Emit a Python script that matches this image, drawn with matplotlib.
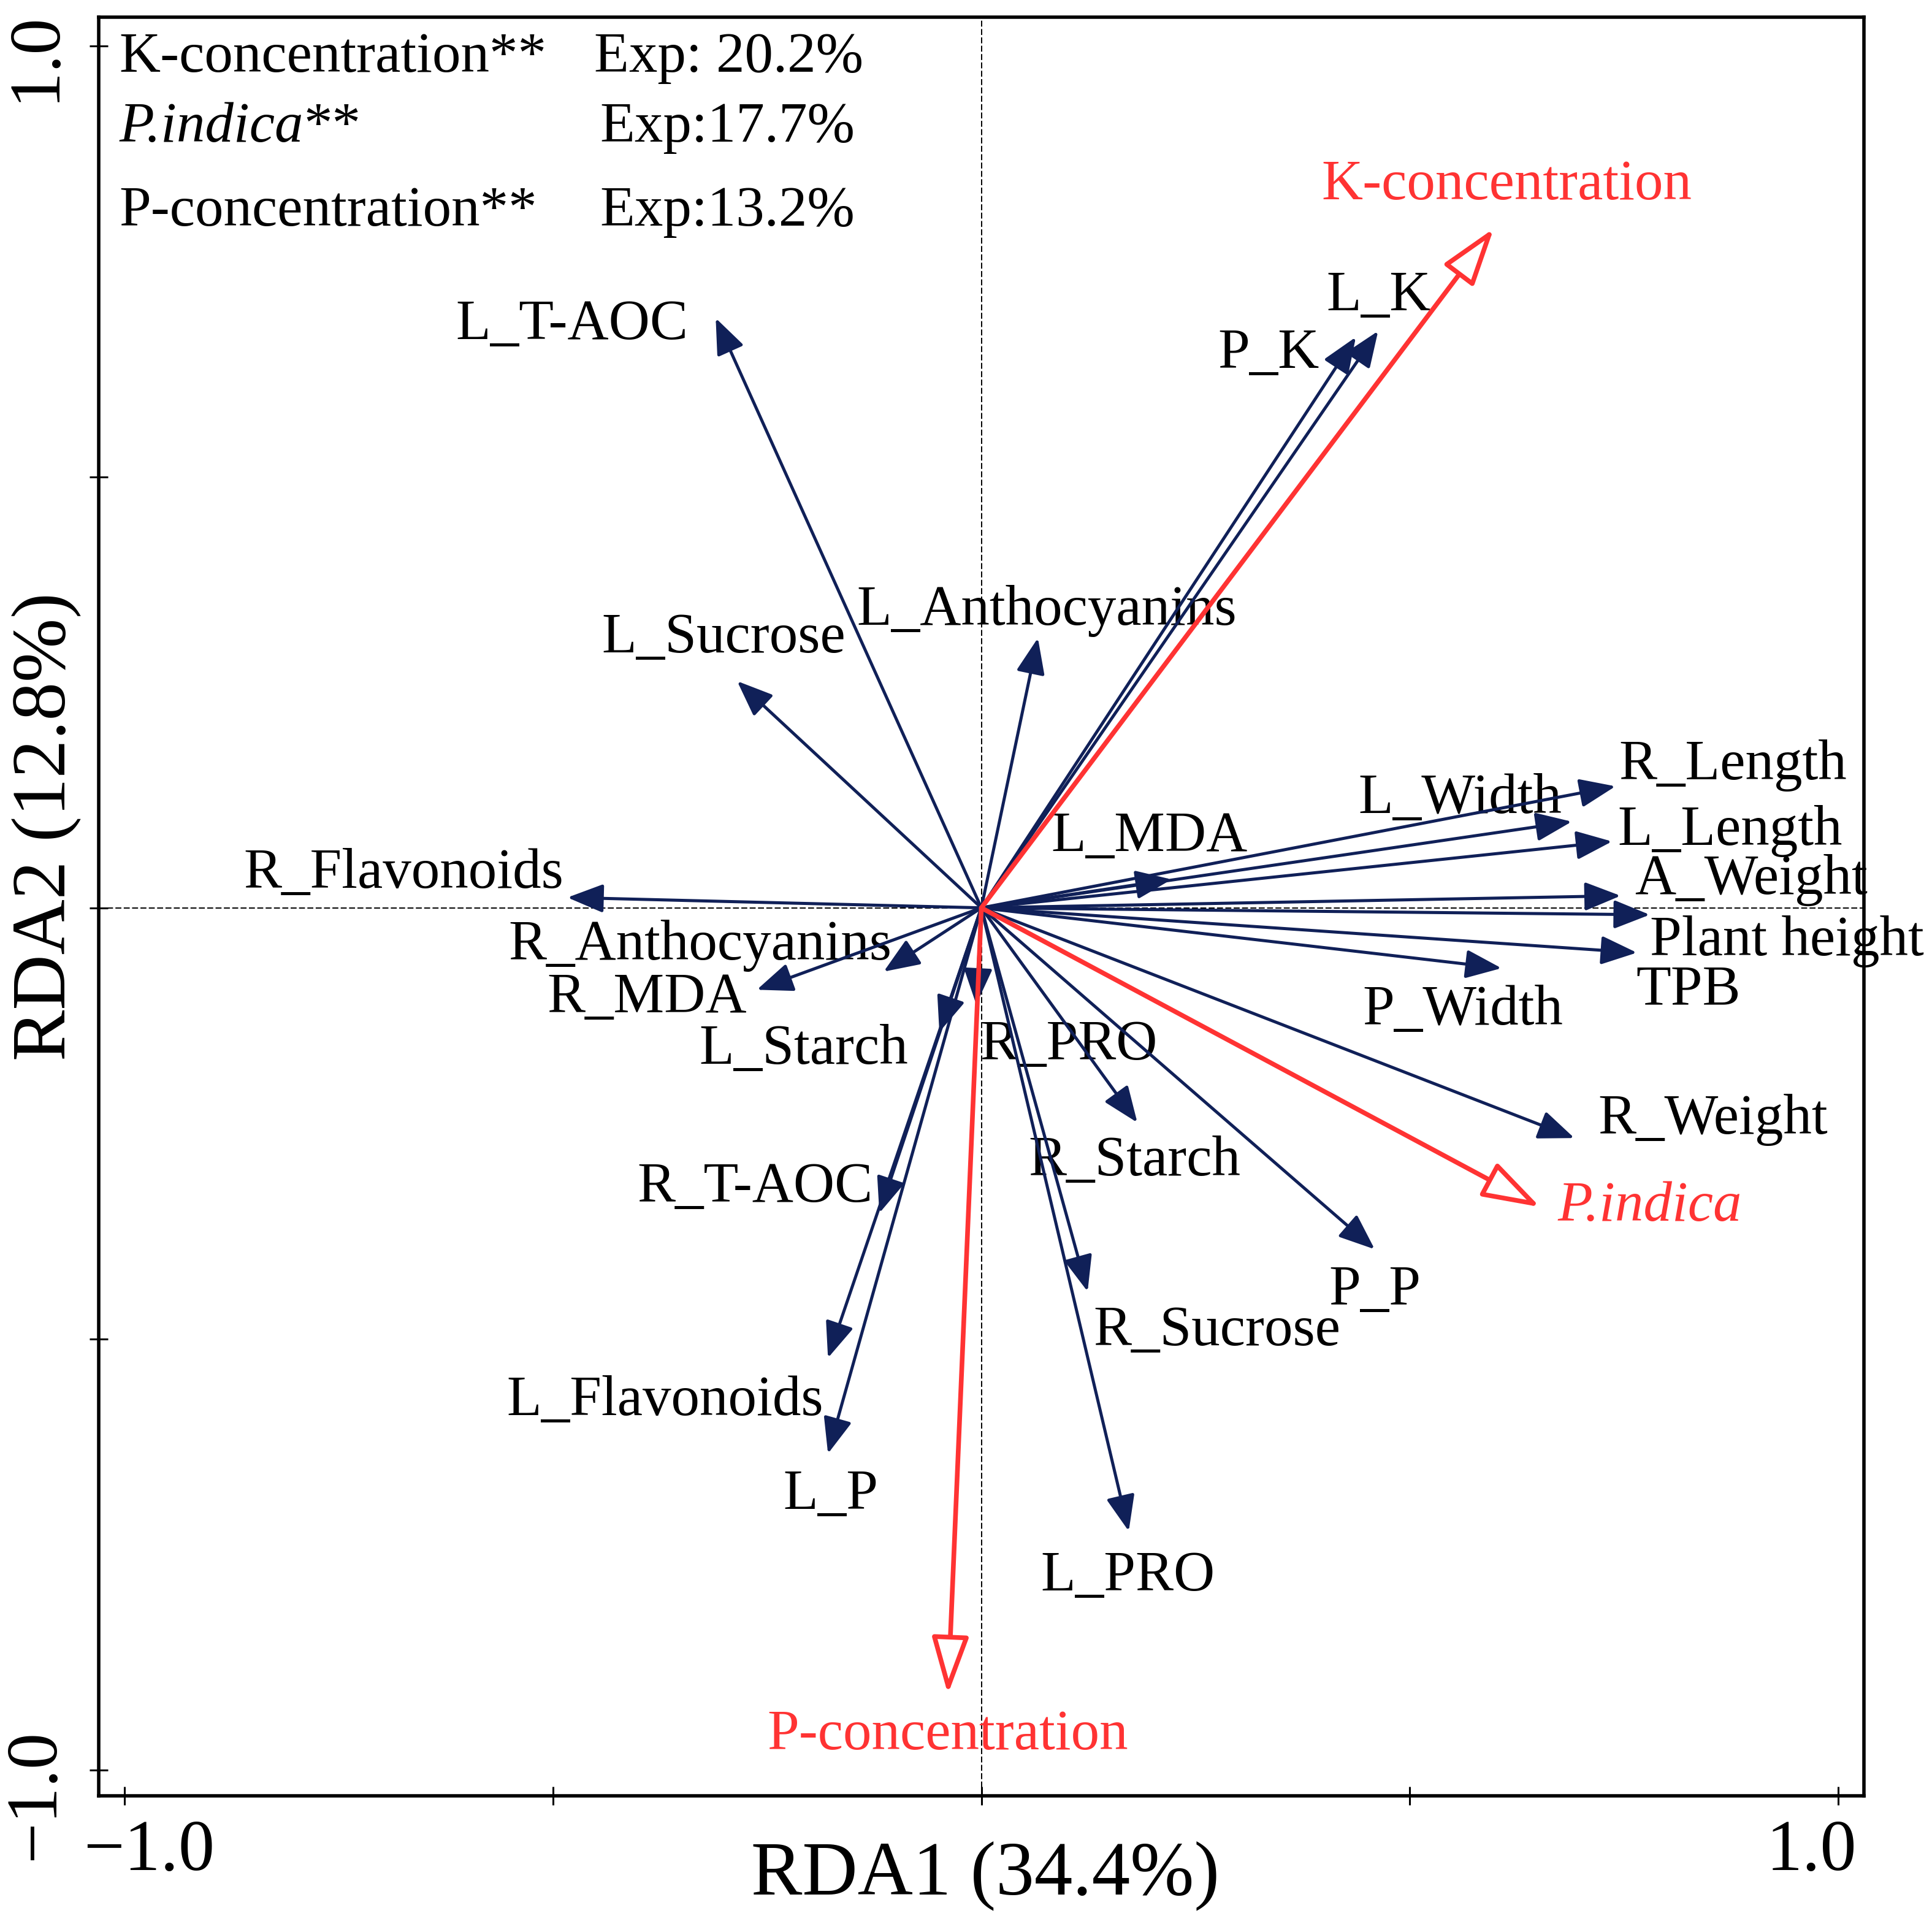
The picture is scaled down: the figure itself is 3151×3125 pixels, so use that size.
import matplotlib
matplotlib.use('Agg')
import matplotlib.pyplot as plt
import matplotlib.transforms as mtransforms

plt.rcParams['font.family'] = 'Liberation Serif'

# response variables (blue arrows): RDA1 / RDA2 scores
var_names = ['L_T-AOC', 'L_Sucrose', 'L_Anthocyanins', 'P_K', 'L_K',
             'R_Length', 'L_Width', 'L_Length', 'L_MDA', 'A_Weight',
             'Plant height', 'TPB', 'P_Width', 'R_Weight', 'P_P',
             'R_Starch', 'R_Sucrose', 'L_PRO', 'R_PRO', 'L_Starch',
             'R_Anthocyanins', 'R_MDA', 'R_Flavonoids', 'R_T-AOC',
             'L_Flavonoids', 'L_P']
rda1 = [-0.310, -0.285, 0.066, 0.437, 0.463,
        0.740, 0.689, 0.736, 0.222, 0.746,
        0.780, 0.765, 0.607, 0.692, 0.459,
        0.182, 0.124, 0.172, -0.006, -0.049,
        -0.114, -0.262, -0.483, -0.119,
        -0.179, -0.179]
rda2 = [0.684, 0.263, 0.313, 0.662, 0.669,
        0.141, 0.100, 0.077, 0.033, 0.014,
        -0.008, -0.052, -0.070, -0.267, -0.396,
        -0.249, -0.445, -0.723, -0.112, -0.144,
        -0.074, -0.095, 0.012, -0.354,
        -0.522, -0.633]

# explanatory variables (red arrows)
env_names = ['K-concentration', 'P.indica', 'P-concentration']
env_rda1 = [0.598, 0.652, -0.039]
env_rda2 = [0.788, -0.347, -0.912]
env_exp = ['Exp: 20.2%', 'Exp:17.7%', 'Exp:13.2%']

# where each label sits (layout only)
label_xy = {
    'L_T-AOC': (-0.478, 0.676), 'L_Sucrose': (-0.301, 0.312),
    'L_Anthocyanins': (0.076, 0.344), 'L_K': (0.464, 0.709),
    'P_K': (0.335, 0.642), 'R_Length': (0.877, 0.165),
    'L_Width': (0.559, 0.126), 'L_MDA': (0.196, 0.082),
    'L_Length': (0.874, 0.089), 'A_Weight': (0.898, 0.032),
    'Plant height': (0.940, -0.039), 'TPB': (0.825, -0.096),
    'P_Width': (0.562, -0.119), 'R_Weight': (0.854, -0.246),
    'P_P': (0.459, -0.444), 'R_Sucrose': (0.275, -0.491),
    'R_Starch': (0.179, -0.294), 'R_PRO': (0.102, -0.160),
    'L_PRO': (0.171, -0.776), 'L_P': (-0.176, -0.681),
    'L_Flavonoids': (-0.369, -0.572), 'R_T-AOC': (-0.264, -0.325),
    'L_Starch': (-0.207, -0.165), 'R_MDA': (-0.390, -0.105),
    'R_Anthocyanins': (-0.328, -0.044), 'R_Flavonoids': (-0.674, 0.039),
}
env_label_xy = {'K-concentration': (0.613, 0.838),
                'P.indica': (0.780, -0.347),
                'P-concentration': (-0.039, -0.960)}

navy = '#102058'
red = '#ff3333'
fs = 67

fig = plt.figure(figsize=(31.51, 31.25), dpi=100)
ax = fig.add_axes([0.0511, 0.0627, 0.9137, 0.9283])
ax.set_xlim(-1.03, 1.03)
ax.set_ylim(-1.03, 1.033)

ax.axhline(0, color='black', lw=1.4, ls=(0, (5, 2)), zorder=1)
ax.axvline(0, color='black', lw=1.4, ls=(0, (5, 2)), zorder=1)

for name, x, y in zip(var_names, rda1, rda2):
    ax.annotate('', xy=(x, y), xytext=(0, 0),
                arrowprops=dict(arrowstyle='-|>,head_length=0.9,head_width=0.36',
                                mutation_scale=40, color=navy, lw=3.6,
                                shrinkA=0, shrinkB=0), zorder=3)
    lx, ly = label_xy[name]
    ax.text(lx, ly, name, fontsize=fs, ha='center', va='center', zorder=2,
            clip_on=False)

for name, x, y in zip(env_names, env_rda1, env_rda2):
    ax.annotate('', xy=(x, y), xytext=(0, 0),
                arrowprops=dict(arrowstyle='-|>,head_length=1.45,head_width=0.47',
                                mutation_scale=40, facecolor='white',
                                edgecolor=red, lw=5.5, shrinkA=0, shrinkB=0),
                zorder=4)
    lx, ly = env_label_xy[name]
    style = 'italic' if name == 'P.indica' else 'normal'
    ax.text(lx, ly, name, fontsize=fs, ha='center', va='center', color=red,
            fontstyle=style, zorder=2)

# significance / explained variance block
rows_y = [0.986, 0.905, 0.807]
exp_x = [-0.452, -0.445, -0.445]
for name, exp, yy, ex in zip(env_names, env_exp, rows_y, exp_x):
    if name == 'P.indica':
        t = ax.text(-1.006, yy, name, fontsize=fs, ha='left', va='center',
                    fontstyle='italic')
        ax.annotate('**', xy=(1, 0.5), xycoords=t, fontsize=fs,
                    ha='left', va='center')
    else:
        ax.text(-1.006, yy, name + '**', fontsize=fs, ha='left', va='center')
    ax.text(ex, yy, exp, fontsize=fs, ha='left', va='center')

ticks = [-1.0, -0.5, 0.0, 0.5, 1.0]
tick_labels = ['\u22121.0', '', '', '', '1.0']
ax.set_xticks(ticks)
ax.set_xticklabels(tick_labels)
ax.set_yticks(ticks)
ax.set_yticklabels(tick_labels)
ax.tick_params(axis='both', direction='inout', length=22, width=2.2,
               labelsize=85, pad=17)
ax.tick_params(axis='y', labelrotation=90, pad=24)
for lab in ax.get_yticklabels():
    lab.set_va('center')

yl = ax.get_yticklabels()
yl[0].set_transform(yl[0].get_transform() +
                    mtransforms.ScaledTranslation(0, -0.40, fig.dpi_scale_trans))
yl[-1].set_transform(yl[-1].get_transform() +
                     mtransforms.ScaledTranslation(0, -0.18, fig.dpi_scale_trans))

xl = ax.get_xticklabels()
xl[0].set_transform(xl[0].get_transform() +
                    mtransforms.ScaledTranslation(0.40, 0, fig.dpi_scale_trans))
xl[-1].set_transform(xl[-1].get_transform() +
                     mtransforms.ScaledTranslation(-0.44, 0, fig.dpi_scale_trans))

for sp in ax.spines.values():
    sp.set_linewidth(4)

fig.text(0.510, 0.0207, 'RDA1 (34.4%)', fontsize=90, ha='center', va='center')
fig.text(0.0242, 0.5685, 'RDA2 (12.8%)', fontsize=90, ha='center', va='center',
         rotation=90)

fig.savefig('out.png', dpi=100)
